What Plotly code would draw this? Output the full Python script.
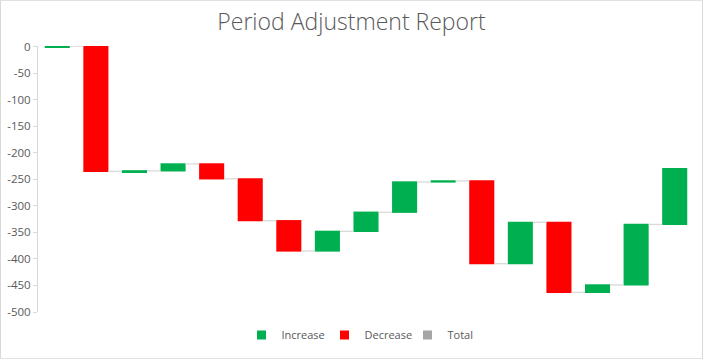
import plotly.graph_objects as go

categories = [f"P{i}" for i in range(1, 18)]
changes = [1, -236, 1, 13, -28, -79, -57, 37, 36, 57, 2, -156, 78, -132, 14, 114, 105]
legend_labels = ["Increase", "Decrease", "Total"]
legend_colors = ["#00B050", "#FF0000", "#A5A5A5"]
y_ticks = [0, -50, -100, -150, -200, -250, -300, -350, -400, -450, -500]

W, H = 703, 359
L, R, T, B = 38, 9, 46, 47

fig = go.Figure()
fig.add_trace(go.Waterfall(
    x=categories, y=changes, measure=["relative"] * len(changes),
    increasing=dict(marker=dict(color=legend_colors[0])),
    decreasing=dict(marker=dict(color=legend_colors[1])),
    totals=dict(marker=dict(color=legend_colors[2])),
    connector=dict(line=dict(color="#D9D9D9", width=1.3), mode="between"),
    showlegend=False, hoverinfo="x+y",
))
for lab, col in zip(legend_labels, legend_colors):
    fig.add_trace(go.Scatter(
        x=[None], y=[None], mode="markers", name=lab,
        marker=dict(symbol="square", size=9, color=col),
    ))

pw = W - L - R
ph = H - T - B
fig.add_shape(type="rect", xref="paper", yref="paper",
              x0=-L / pw + 0.0008, x1=1 + R / pw - 0.0008,
              y0=-B / ph + 0.001, y1=1 + T / ph - 0.001,
              line=dict(color="#D9D9D9", width=1), layer="below")

fig.update_layout(
    width=W, height=H,
    margin=dict(l=L, r=R, t=T, b=B, autoexpand=False),
    paper_bgcolor="white", plot_bgcolor="white",
    waterfallgap=0.35,
    title=dict(text="Period Adjustment Report", x=0.5, xanchor="center",
               y=1 - 22 / H, yanchor="middle", automargin=False,
               font=dict(family="Open Sans", size=23, color="#595959", weight=300)),
    font=dict(family="Open Sans", size=11, color="#595959"),
    legend=dict(orientation="h", x=0.5, xanchor="center", y=-23 / ph, yanchor="middle",
                font=dict(size=11, color="#595959"), itemwidth=30,
                entrywidth=38, entrywidthmode="pixels"),
    xaxis=dict(showticklabels=False, showline=False, showgrid=False, zeroline=False,
               ticks="", automargin=False),
    yaxis=dict(range=[-500, 1.2], tickvals=y_ticks, ticktext=[str(v) for v in y_ticks],
               showgrid=False, zeroline=False, showline=True, linecolor="#D9D9D9",
               linewidth=1, ticks="outside", ticklen=4, tickcolor="#D9D9D9",
               automargin=False, tickfont=dict(size=11.5, color="#595959")),
)

fig.write_html("out.html", config={"displayModeBar": False},
               post_script="document.body.style.margin='0px';")
